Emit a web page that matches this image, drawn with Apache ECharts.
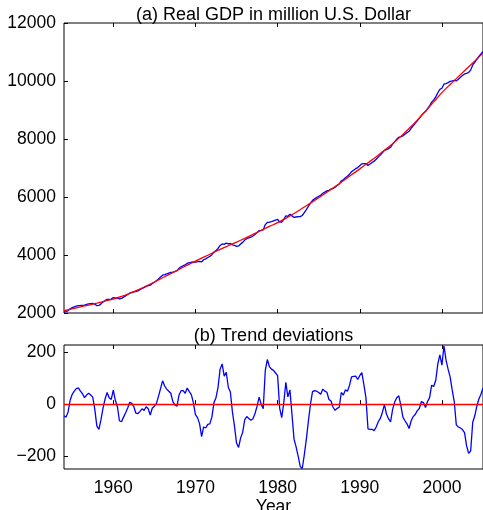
<!DOCTYPE html>
<html>
<head>
<meta charset="utf-8">
<script src="https://cdn.jsdelivr.net/npm/echarts@6/dist/echarts.min.js"></script>
<style>
html,body{margin:0;padding:0;background:#fff;}
#c{width:483px;height:510px;}
</style>
</head>
<body>
<div id="c"></div>
<script>
// Quarterly data 1954Q1 .. 2005Q1
var startYear = 1954;
var gdp = [
2035,2046,2083,2144, 2183,2211,2238,2257, 2260,2266,2268,2294, 2317,2326,2335,2304,
2255,2261,2315,2378, 2430,2473,2470,2481, 2534,2518,2515,2484, 2502,2548,2592,2638,
2687,2713,2730,2735, 2764,2805,2847,2874, 2920,2947,2958,3020, 3062,3109,3173,3239,
3305,3321,3346,3374, 3402,3406,3430,3461, 3540,3593,3630,3656, 3712,3733,3757,3760,
3750,3772,3783,3766, 3837,3867,3915,3950, 4010,4099,4153,4226, 4330,4381,4366,4412,
4385,4398,4353,4329, 4295,4311,4380,4435, 4515,4561,4588,4614, 4654,4709,4772,4842,
4850,4866,5048,5123, 5130,5153,5180,5203, 5225,5138,5138,5233, 5349,5334,5403,5349,
5295,5310,5320,5325, 5362,5460,5565,5680, 5790,5884,5935,5979, 6020,6061,6128,6168,
6211,6232,6275,6299, 6336,6394,6448,6555, 6595,6666,6713,6786, 6870,6923,6976,7014,
7080,7145,7150,7153, 7085,7136,7188,7236, 7302,7377,7445,7523, 7608,7630,7669,7715,
7820,7911,7990,8060, 8085,8108,8161,8217, 8266,8368,8457,8538, 8625,8711,8815,8889,
8947,9050,9145,9273, 9348,9452,9595,9710, 9750,9895,9910,9945, 9985,10003,10025,10003,
10062,10126,10187,10243, 10260,10298,10375,10553, 10645,10750,10845,10931, 11022
];
var deviation = [
-45,-50,-30,15, 38,50,60,63, 50,40,25,35, 42,35,27,-20,
-85,-97,-60,-15, 20,45,25,18, 54,15,-10,-64, -68,-50,-33,-15,
7,3,-10,-35, -36,-28,-18,-24, -10,-18,-42,-15, -8,3,30,60,
90,70,58,50, 42,10,-3,-8, 35,52,52,42, 62,48,37,5,
-40,-52,-75,-125, -88,-92,-78,-76, -50,5,25,65, 135,155,108,123,
65,47,-30,-85, -150,-167,-130,-108, -60,-48,-55,-62, -56,-36,-8,27,
0,-18,130,172, 145,135,130,120, 110,-15,-52,5, 84,28,55,-40,
-135,-165,-200,-240, -248,-195,-135,-65, 0,48,52,50, 45,38,58,50,
46,18,12,-12, -24,-16,-12,45, 35,55,50,72, 105,107,108,95,
110,122,75,25, -95,-97,-97,-102, -88,-68,-55,-32, -2,-38,-56,-68,
-20,8,25,32, -5,-50,-64,-76, -94,-65,-48,-40, -25,-17,10,6,
-13,10,25,73, 68,92,155,190, 150,225,170,135, 105,55,10,-80,
-88,-92,-98,-110, -160,-190,-180,-70, -45,-8,20,38, 62
];
// Annual trend values, 1954 .. 2005
var trend = [
2080,2145,2210,2275,2340,2410,2480,2570,2680,2800,
2930,3070,3215,3360,3505,3650,3790,3925,4060,4195,
4320,4445,4575,4710,4850,4985,5115,5265,5430,5610,
5790,5975,6165,6360,6560,6765,6970,7180,7390,7610,
7840,8090,8360,8650,8960,9280,9600,9880,10150,10420,
10690,10960
];
var yearTicks = [1960, 1970, 1980, 1990, 2000];
var gdpTicks = [2000, 4000, 6000, 8000, 10000, 12000];
var devTicks = [-200, 0, 200];
var titleA = '(a) Real GDP in million U.S. Dollar';
var titleB = '(b) Trend deviations';
var xName = 'Year';

var FONT = 'Liberation Sans, Arial, Helvetica, sans-serif';
var q = function (i) { return startYear + i / 4; };
var gdpData = gdp.map(function (v, i) { return [q(i), v]; });
var devData = deviation.map(function (v, i) { return [q(i), v]; });
var trendData = trend.map(function (v, i) { return [startYear + i, v]; });
var xMin = startYear, xMax = q(gdp.length - 1);

var chart = echarts.init(document.getElementById('c'), null, {renderer: 'canvas'});
var lblStyle = {color: '#000', fontSize: 17.5, fontFamily: FONT};
function xAx(gi, pos, showLabels, name) {
  return {
    type: 'value', gridIndex: gi, position: pos, min: xMin, max: xMax,
    axisLine: {show: false},
    axisTick: {show: true, inside: true, length: 4, lineStyle: {color: '#000'}, customValues: yearTicks},
    axisLabel: {show: showLabels, customValues: yearTicks, margin: 10, formatter: function (v) { return String(v); }, ...lblStyle},
    splitLine: {show: false},
    name: name || '', nameLocation: 'middle', nameGap: 26,
    nameTextStyle: {color: '#000', fontSize: 17.5, fontFamily: FONT}
  };
}
var option = {
  animation: false,
  backgroundColor: '#fff',
  grid: [
    {left: 64, right: 0, top: 23, height: 290, show: true, borderColor: '#000', borderWidth: 1, backgroundColor: 'transparent', containLabel: false, outerBoundsMode: 'none'},
    {left: 64, right: 0, top: 345, height: 124, show: true, borderColor: '#000', borderWidth: 1, backgroundColor: 'transparent', containLabel: false, outerBoundsMode: 'none'}
  ],
  xAxis: [
    xAx(0, 'bottom', false),
    xAx(0, 'top', false),
    xAx(1, 'bottom', true, xName),
    xAx(1, 'top', false)
  ],
  yAxis: [
    {type: 'value', gridIndex: 0, min: 2000, max: 12000, interval: 2000,
     axisLine: {show: false},
     axisTick: {show: true, inside: true, length: 4, lineStyle: {color: '#000'}, customValues: gdpTicks},
     axisLabel: {margin: 8, customValues: gdpTicks, formatter: function (v) { return String(v); }, ...lblStyle}, splitLine: {show: false}},
    {type: 'value', gridIndex: 1, min: -250, max: 228,
     axisLine: {show: false},
     axisTick: {show: true, inside: true, length: 4, lineStyle: {color: '#000'}, customValues: devTicks},
     axisLabel: {margin: 8, customValues: devTicks, formatter: function (v) { return v < 0 ? '\u2212' + Math.abs(v) : String(v); }, ...lblStyle},
     splitLine: {show: false}}
  ],
  graphic: [
    {type: 'text', x: 273.5, y: 15, style: {text: titleA, textAlign: 'center', textVerticalAlign: 'middle', font: '18px ' + FONT, fill: '#000'}},
    {type: 'text', x: 273.5, y: 336, style: {text: titleB, textAlign: 'center', textVerticalAlign: 'middle', font: '18px ' + FONT, fill: '#000'}}
  ],
  series: [
    {type: 'line', xAxisIndex: 0, yAxisIndex: 0, data: gdpData, showSymbol: false, lineStyle: {color: '#0000ff', width: 1.3}, z: 2},
    {type: 'line', xAxisIndex: 0, yAxisIndex: 0, data: trendData, showSymbol: false, smooth: 0.3, lineStyle: {color: '#ff0000', width: 1.3}, z: 3},
    {type: 'line', xAxisIndex: 2, yAxisIndex: 1, data: devData, showSymbol: false, lineStyle: {color: '#0000ff', width: 1.3}, z: 2,
     markLine: {silent: true, symbol: 'none', label: {show: false}, lineStyle: {color: '#ff0000', width: 1.3, type: 'solid'}, data: [{yAxis: 0}], z: 3}}
  ]
};
chart.setOption(option);
</script>
</body>
</html>
